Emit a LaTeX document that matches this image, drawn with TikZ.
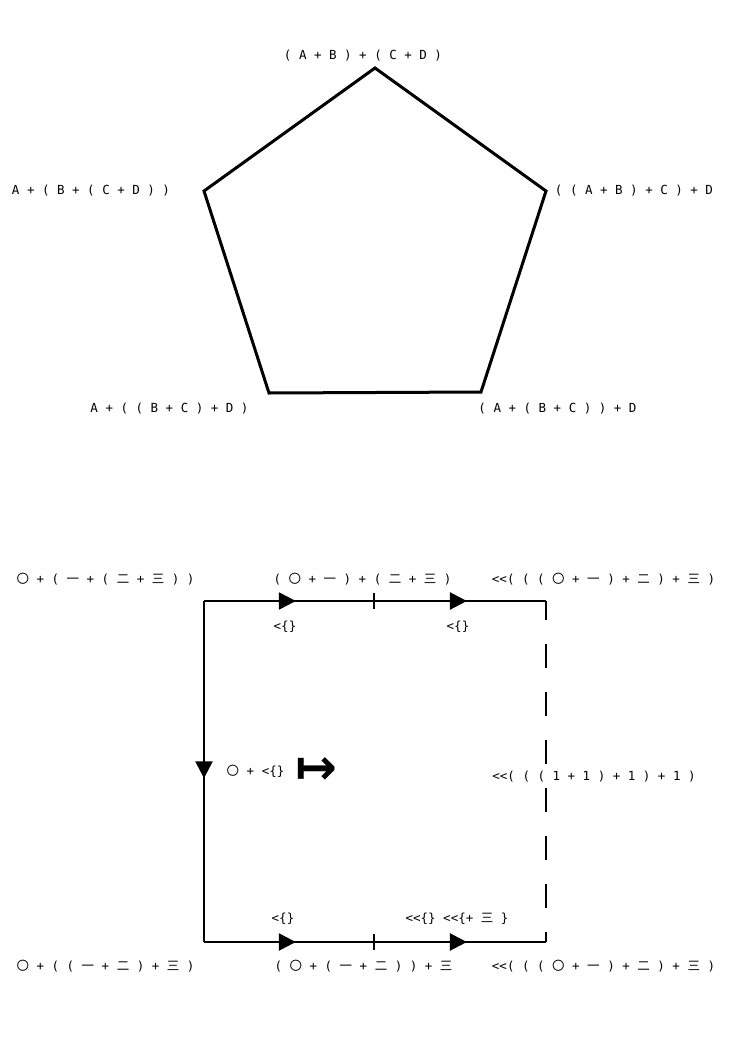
\documentclass[tikz,border=0pt]{standalone}
\usepackage{fontspec}
\setmainfont{DejaVu Sans Mono}
\newfontfamily\cjk{Noto Sans CJK SC}
\newfontfamily\symfont{DejaVu Sans}
\usetikzlibrary{arrows.meta,calc,decorations.markings}
\newcommand{\ling}{{\cjk 〇}}
\newcommand{\yi}{{\cjk 一}}
\newcommand{\erc}{{\cjk 二}}
\newcommand{\san}{{\cjk 三}}

\begin{document}
\begin{tikzpicture}[x=1pt,y=-1pt,
  lab/.style={font=\fontsize{12.5}{14}\selectfont,inner sep=0pt},
  edge/.style={line width=2.5pt},
  midarrow/.style={postaction={decorate,decoration={markings,
    mark=at position #1 with {\arrow{Triangle[length=17pt,width=17pt]}}}}}]
\useasboundingbox (0,0) rectangle (744,1052);
% Pentagon
\coordinate (pt) at (375,68);
\coordinate (pl) at (204,191);
\coordinate (pr) at (546,191);
\coordinate (pbl) at (269,393);
\coordinate (pbr) at (481,392);
\draw[line width=3pt,line join=miter] (pt) -- (pr) -- (pbr) -- (pbl) -- (pl) -- cycle;
\node[lab] (ptop) at (363,56) {( A + B ) + ( C + D )};
\node[lab] (pleft) at (91,191) {A + ( B + ( C + D ) )};
\node[lab] (pright) at (634,191) {( ( A + B ) + C ) + D};
\node[lab] (pbotl) at (169.5,409) {A + ( ( B + C ) + D )};
\node[lab] (pbotr) at (557.5,409) {( A + ( B + C ) ) + D};
% Square
\coordinate (tl) at (204,601);
\coordinate (tm) at (374,601);
\coordinate (tr) at (546,601);
\coordinate (bl) at (204,942);
\coordinate (bm) at (374,942);
\coordinate (br) at (546,942);
\draw[edge,midarrow=0.54] (tl) -- (tm);
\draw[edge,midarrow=0.54] (tm) -- (tr);
\draw[edge,midarrow=0.52] (tl) -- (bl);
\draw[edge,midarrow=0.54] (bl) -- (bm);
\draw[edge,midarrow=0.54] (bm) -- (br);
\draw[edge,dash pattern=on 24pt off 24pt,dash phase=5pt] (tr) -- (br);
\foreach \c in {tm,bm}
  \draw[line width=1.5pt] ($(\c)+(0,-8)$) -- ($(\c)+(0,8)$);
% Square labels
\node[lab] (stl) at (105.5,579) {\ling{} + ( \yi{} + ( \erc{} + \san{} ) )};
\node[lab] (stm) at (362.5,579) {( \ling{} + \yi{} ) + ( \erc{} + \san{} )};
\node[lab] (str) at (603.5,579) {<{}<( ( ( \ling{} + \yi{} ) + \erc{} ) + \san{} )};
\node[lab] (sa) at (285,627) {<\{\}};
\node[lab] (sb) at (458,627) {<\{\}};
\node[lab] (sml) at (255.5,771) {\ling{} + <\{\}};
\node[inner sep=0pt] (maps) at (316.5,771) {\symfont\bfseries\fontsize{50}{50}\selectfont ↦};
\node[lab] (smr) at (594,777) {<{}<( ( ( 1 + 1 ) + 1 ) + 1 )};
\node[lab] (sc) at (283,919) {<\{\}};
\node[lab] (sd) at (457,919) {<{}<\{\} <{}<\{+ \san{} \}};
\node[lab] (sbl) at (105.5,966) {\ling{} + ( ( \yi{} + \erc{} ) + \san{} )};
\node[lab] (sbm) at (363.5,966) {( \ling{} + ( \yi{} + \erc{} ) ) + \san};
\node[lab] (sbr) at (603.5,966) {<{}<( ( ( \ling{} + \yi{} ) + \erc{} ) + \san{} )};
\end{tikzpicture}
\end{document}
